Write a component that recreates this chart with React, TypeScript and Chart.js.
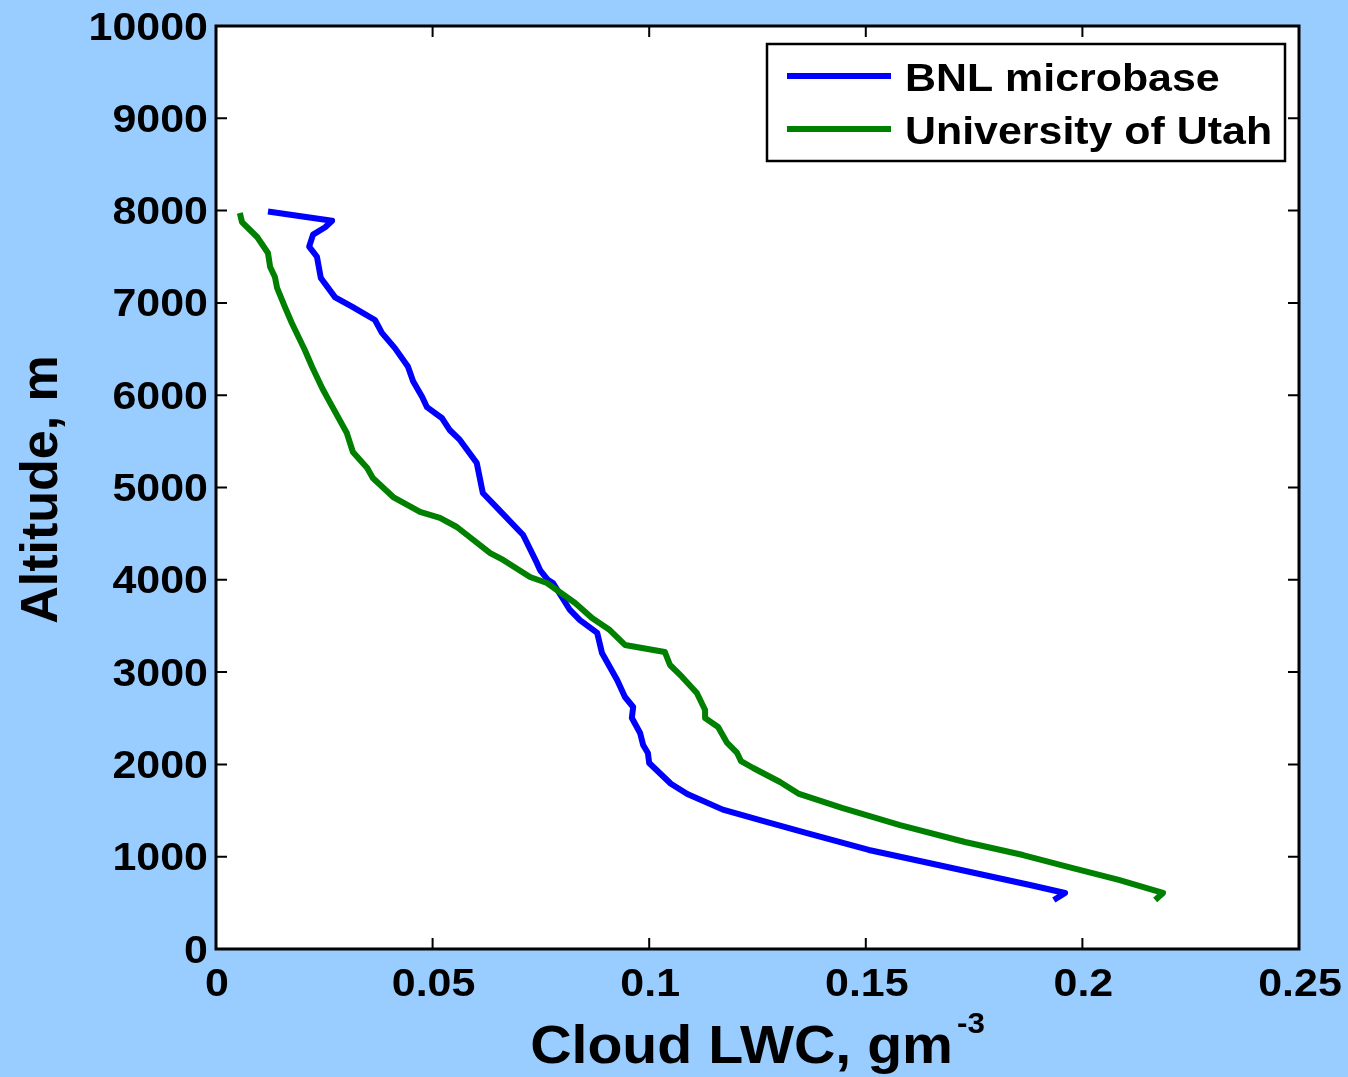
import React, { useEffect, useRef } from "react";
import { Chart, registerables } from "chart.js";

Chart.register(...registerables);

// ---------------- data ----------------
const seriesNames = ["BNL microbase", "University of Utah"];
const seriesColors = ["#0000FF", "#008000"];

const bnlLWC = [
  0.012, 0.0268, 0.0252, 0.0224, 0.0215, 0.0233, 0.0242, 0.0275, 0.0314, 0.0367,
  0.0383, 0.0413, 0.0443, 0.0455, 0.0476, 0.0487, 0.0522, 0.054, 0.0563, 0.0602,
  0.0616, 0.0649, 0.0709, 0.0741, 0.0748, 0.0766, 0.0778, 0.0817, 0.084, 0.088,
  0.0891, 0.0926, 0.0944, 0.0963, 0.096, 0.0979, 0.0986, 0.0997, 0.1, 0.105,
  0.1088, 0.117, 0.126, 0.136, 0.1507, 0.1614, 0.1773, 0.1879, 0.196, 0.1934,
];
const bnlAlt = [
  7990, 7890, 7820, 7740, 7610, 7500, 7270, 7060, 6960, 6815,
  6675, 6510, 6310, 6150, 5980, 5870, 5750, 5620, 5515, 5265,
  4940, 4780, 4485, 4180, 4106, 4000, 3965, 3673, 3564, 3424,
  3207, 2914, 2730, 2622, 2503, 2340, 2210, 2124, 2015, 1790,
  1680, 1510, 1390, 1260, 1073, 964, 802, 693, 607, 531,
];

const utahLWC = [
  0.0055, 0.006, 0.0095, 0.012, 0.0125, 0.0136, 0.0141, 0.0159, 0.0175, 0.0205,
  0.0222, 0.0245, 0.0256, 0.0302, 0.0316, 0.0349, 0.0362, 0.0409, 0.0471, 0.0517,
  0.0556, 0.0633, 0.0663, 0.0725, 0.0764, 0.0829, 0.0868, 0.0909, 0.0944, 0.1036,
  0.1048, 0.1076, 0.111, 0.1129, 0.1129, 0.1159, 0.118, 0.1203, 0.1212, 0.124,
  0.1302, 0.1346, 0.1445, 0.1579, 0.1729, 0.1863, 0.1969, 0.2084, 0.2186, 0.2168,
];
const utahAlt = [
  7974, 7876, 7714, 7541, 7389, 7281, 7162, 6956, 6782, 6490,
  6306, 6078, 5981, 5590, 5385, 5211, 5103, 4897, 4735, 4670,
  4572, 4290, 4215, 4030, 3965, 3749, 3586, 3456, 3294, 3218,
  3077, 2947, 2774, 2589, 2503, 2405, 2232, 2124, 2035, 1961,
  1809, 1680, 1528, 1343, 1159, 1018, 888, 748, 607, 531,
];

const xTickValues = [0, 0.05, 0.1, 0.15, 0.2, 0.25];
const xTickLabels = ["0", "0.05", "0.1", "0.15", "0.2", "0.25"];
const yTickValues = [0, 1000, 2000, 3000, 4000, 5000, 6000, 7000, 8000, 9000, 10000];
const yTickLabels = ["0", "1000", "2000", "3000", "4000", "5000", "6000", "7000", "8000", "9000", "10000"];

const xTitle = "Cloud LWC, gm";
const xTitleSup = "-3";
const yTitle = "Altitude, m";

// ---------------- styling helpers ----------------
const FONT = '"Liberation Sans", Arial, Helvetica, sans-serif';
const BG = "#99CCFF";

function drawStretched(
  ctx: CanvasRenderingContext2D,
  text: string,
  x: number,
  y: number,
  align: CanvasTextAlign,
  sx: number
) {
  ctx.save();
  ctx.translate(x, y);
  ctx.scale(sx, 1);
  ctx.textAlign = align;
  ctx.textBaseline = "alphabetic";
  ctx.fillText(text, 0, 0);
  ctx.restore();
}

const decorPlugin = {
  id: "matlabDecor",
  beforeDraw(chart: any) {
    const { ctx, chartArea } = chart;
    ctx.save();
    ctx.fillStyle = BG;
    ctx.fillRect(0, 0, chart.width, chart.height);
    ctx.fillStyle = "#FFFFFF";
    ctx.fillRect(chartArea.left, chartArea.top, chartArea.right - chartArea.left, chartArea.bottom - chartArea.top);
    ctx.restore();
  },
  afterDraw(chart: any) {
    const { ctx, chartArea } = chart;
    const xs = chart.scales.x;
    const ys = chart.scales.y;
    const { left, right, top, bottom } = chartArea;
    ctx.save();

    // inward ticks on all four sides
    ctx.strokeStyle = "#000000";
    ctx.lineWidth = 2;
    const tl = 11;
    xTickValues.forEach((v) => {
      const px = xs.getPixelForValue(v);
      if (Math.abs(px - left) < 2 || Math.abs(px - right) < 2) return;
      ctx.beginPath();
      ctx.moveTo(px, bottom);
      ctx.lineTo(px, bottom - tl);
      ctx.moveTo(px, top);
      ctx.lineTo(px, top + tl);
      ctx.stroke();
    });
    yTickValues.forEach((v) => {
      const py = ys.getPixelForValue(v);
      if (Math.abs(py - top) < 2 || Math.abs(py - bottom) < 2) return;
      ctx.beginPath();
      ctx.moveTo(left, py);
      ctx.lineTo(left + tl, py);
      ctx.moveTo(right, py);
      ctx.lineTo(right - tl, py);
      ctx.stroke();
    });

    // axes box
    ctx.lineWidth = 3;
    ctx.strokeRect(left, top, right - left, bottom - top);

    // tick labels
    ctx.fillStyle = "#000000";
    ctx.font = `bold 38px ${FONT}`;
    yTickValues.forEach((v, i) => {
      const py = ys.getPixelForValue(v);
      drawStretched(ctx, yTickLabels[i], left - 8, py + 13.5, "right", 1.13);
    });
    xTickValues.forEach((v, i) => {
      const px = xs.getPixelForValue(v);
      drawStretched(ctx, xTickLabels[i], px + 1, bottom + 47, "center", 1.13);
    });

    // x title with superscript
    const sxT = 1.08;
    ctx.font = `bold 53px ${FONT}`;
    const mainW = ctx.measureText(xTitle).width * sxT;
    ctx.font = `bold 29px ${FONT}`;
    const supW = ctx.measureText(xTitleSup).width * sxT;
    const gap = 4;
    const totalW = mainW + gap + supW;
    const cx = (left + right) / 2;
    const startX = cx - totalW / 2;
    ctx.font = `bold 53px ${FONT}`;
    drawStretched(ctx, xTitle, startX, 1063, "left", sxT);
    ctx.font = `bold 29px ${FONT}`;
    drawStretched(ctx, xTitleSup, startX + mainW + gap, 1033, "left", sxT);

    // y title (rotated)
    ctx.save();
    ctx.font = `bold 52px ${FONT}`;
    ctx.translate(57, (top + bottom) / 2 + 2);
    ctx.rotate(-Math.PI / 2);
    ctx.textAlign = "center";
    ctx.textBaseline = "alphabetic";
    ctx.fillText(yTitle, 0, 0);
    ctx.restore();

    // legend box
    const lx = 767, ly = 44, lw = 518, lh = 117;
    ctx.fillStyle = "#FFFFFF";
    ctx.fillRect(lx, ly, lw, lh);
    ctx.strokeStyle = "#000000";
    ctx.lineWidth = 2.5;
    ctx.strokeRect(lx, ly, lw, lh);
    const rows = [76, 129];
    seriesNames.forEach((name, i) => {
      ctx.strokeStyle = seriesColors[i];
      ctx.lineWidth = 6;
      ctx.beginPath();
      ctx.moveTo(787, rows[i]);
      ctx.lineTo(891, rows[i]);
      ctx.stroke();
      ctx.fillStyle = "#000000";
      ctx.font = `bold 39px ${FONT}`;
      drawStretched(ctx, name, 905, rows[i] + 15, "left", 1.1);
    });

    ctx.restore();
  },
};

export default function App() {
  const ref = useRef<HTMLCanvasElement>(null);

  useEffect(() => {
    if (!ref.current) return;
    const chart = new Chart(ref.current, {
      type: "scatter",
      data: {
        datasets: [
          {
            label: seriesNames[0],
            data: bnlLWC.map((x, i) => ({ x, y: bnlAlt[i] })),
            showLine: true,
            borderColor: seriesColors[0],
            backgroundColor: seriesColors[0],
            borderWidth: 6,
            borderJoinStyle: "round",
            pointRadius: 0,
            tension: 0,
            fill: false,
            order: 1,
          },
          {
            label: seriesNames[1],
            data: utahLWC.map((x, i) => ({ x, y: utahAlt[i] })),
            showLine: true,
            borderColor: seriesColors[1],
            backgroundColor: seriesColors[1],
            borderWidth: 6,
            borderJoinStyle: "round",
            pointRadius: 0,
            tension: 0,
            fill: false,
            order: 0,
          },
        ],
      },
      options: {
        animation: false,
        responsive: true,
        maintainAspectRatio: false,
        events: [],
        layout: { padding: { top: 26, right: 49, left: 0, bottom: 0 } },
        plugins: {
          legend: { display: false },
          tooltip: { enabled: false },
          title: { display: false },
        },
        scales: {
          x: {
            type: "linear",
            min: 0,
            max: 0.25,
            ticks: { display: false },
            grid: { display: false },
            border: { display: false },
            afterFit: (s: any) => {
              s.height = 128;
            },
          },
          y: {
            type: "linear",
            min: 0,
            max: 10000,
            ticks: { display: false },
            grid: { display: false },
            border: { display: false },
            afterFit: (s: any) => {
              s.width = 216;
            },
          },
        },
      } as any,
      plugins: [decorPlugin],
    });
    return () => chart.destroy();
  }, []);

  return (
    <div
      style={{
        position: "absolute",
        left: 0,
        top: 0,
        width: 1348,
        height: 1077,
        background: BG,
      }}
    >
      <canvas ref={ref} />
    </div>
  );
}
